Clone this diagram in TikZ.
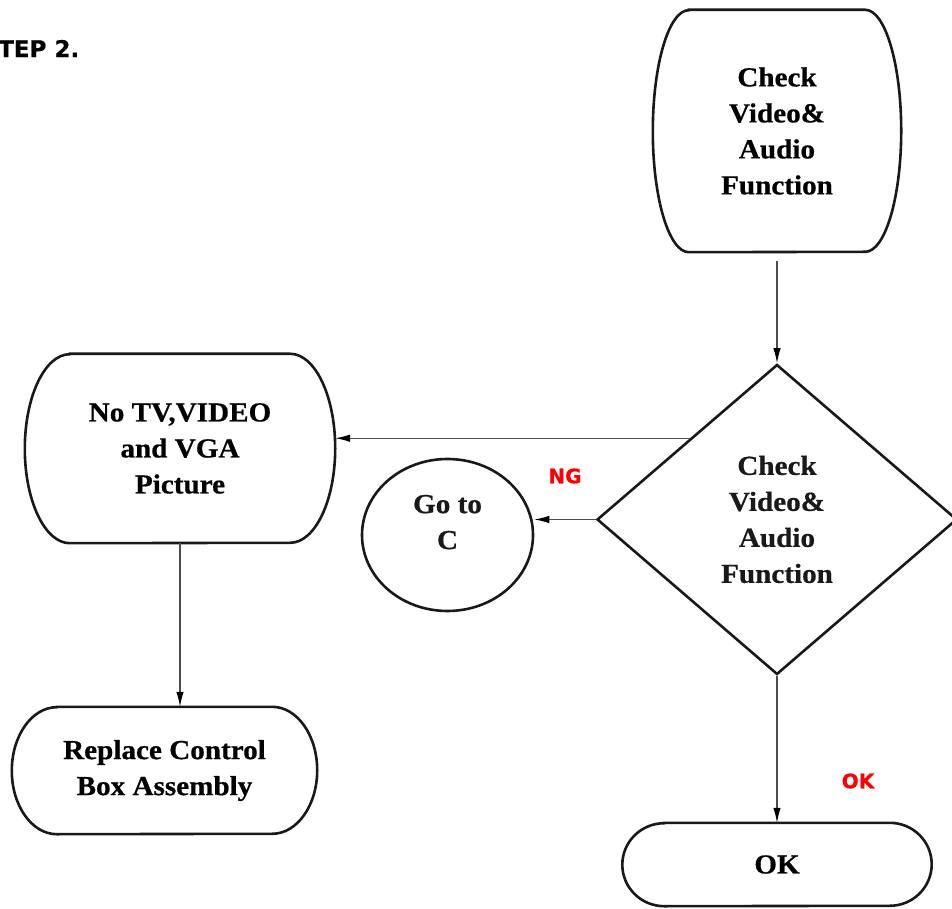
\documentclass[tikz,border=0pt]{standalone}
\usepackage{fontspec}
\setmainfont{Liberation Serif}
\newfontfamily\boxfont{Liberation Serif}[FakeStretch=1.06,FakeBold=0.6]
\newfontfamily\labfont{DejaVu Sans}[FakeBold=0.5]
\usetikzlibrary{shapes.geometric,arrows.meta,calc}
\tikzset{
  txt/.style={rectangle,draw=none,inner sep=0pt,align=center,
    font=\boxfont\bfseries\fontsize{27.5}{36}\selectfont},
  shapeline/.style={line width=2.6pt,black!90},
  conn/.style={line width=1.2pt,black!70,-{Latex[length=15pt,width=7.5pt,black]}},
  lab/.style={inner sep=0pt,text=red,font=\labfont\bfseries\fontsize{20}{24}\selectfont},
}
\newcommand\capsule[3]{%
  \draw[shapeline] ([xshift=#2]#1.north west) -- ([xshift=-#2]#1.north east)
    arc[start angle=90,end angle=-90,x radius=#2,y radius=#3]
    -- ([xshift=#2]#1.south west)
    arc[start angle=270,end angle=90,x radius=#2,y radius=#3] -- cycle;}
\begin{document}
\begin{tikzpicture}[x=1pt,y=1pt]
\useasboundingbox (0,0) rectangle (952,908);
% nodes
\node[txt,minimum width=248pt,minimum height=242pt] (T) at (777,777) {Check\\Video\&\\Audio\\Function};
\node[txt,diamond,draw,shapeline,minimum width=360pt,minimum height=310pt] (D) at (777,388.5) {Check\\Video\&\\Audio\\Function};
\node[txt,minimum width=310pt,minimum height=189pt] (N) at (180,459.5) {No TV,VIDEO\\and VGA\\Picture};
\node[txt,ellipse,draw,shapeline,minimum width=171pt,minimum height=152pt] (C) at (447.5,373) {Go to\\C\\[-10pt]};
\node[txt,minimum width=305pt,minimum height=127pt] (R) at (164.5,137.5) {Replace Control\\Box Assembly};
\node[txt,minimum width=309pt,minimum height=83pt] (O) at (777,43.5) {OK};
% outlines
\capsule{T}{36pt}{121pt}
\capsule{N}{45pt}{94.5pt}
\capsule{R}{45pt}{63.5pt}
\capsule{O}{42pt}{41.5pt}
% labels
\node[lab] (ng) at (565,432) {NG};
\node[lab] (ok) at (858,127) {OK};
\node[lab,text=black,anchor=west,font=\labfont\bfseries\fontsize{23}{27}\selectfont] (step) at (-2,859.5) {TEP 2.};
% connectors
\coordinate (dp) at ($(D.west)!0.52!(D.north)$);
\draw[conn,shorten <=9pt] (T.south) -- (D.north);
\draw[conn] (dp) -- (dp -| N.east);
\draw[conn] (D.west) -- (D.west -| C.east);
\draw[conn] (D.south) -- (O.north);
\draw[conn] (N.south) -- (N.south |- R.north);
\end{tikzpicture}
\end{document}
